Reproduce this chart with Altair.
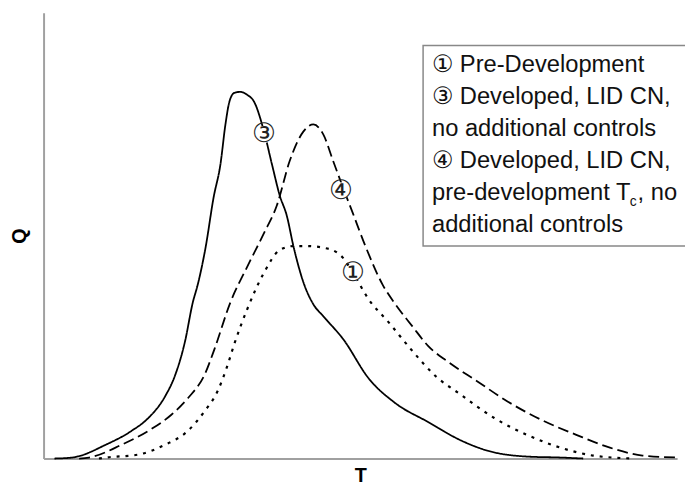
import altair as alt
import pandas as pd

# Hydrograph curves (T in arbitrary time units, Q in arbitrary flow units)
t_dev = [1.1, 2.9, 6.3, 8.9, 10.6, 12.3, 13.3, 14.3, 15.1, 15.6, 16.4, 17.2, 17.9, 18.4, 18.8, 19.3,
         19.9, 20.6, 21.3, 22.3, 23.1, 23.9, 24.6, 25.3, 26.3, 27.3, 28.3, 30.3, 32.9, 35.6, 38.9,
         42.3, 44.9, 48.9, 52.3, 54.6]
q_dev = [0.0, 0.1, 1.4, 2.8, 4.1, 6.3, 8.4, 11.8, 15.8, 17.6, 21.4, 26.4, 29.8, 33.8, 36.1, 37.0,
         37.1, 36.8, 36.1, 33.1, 29.8, 26.6, 24.6, 21.4, 17.8, 15.6, 14.4, 12.1, 8.1, 5.6, 3.7,
         1.8, 0.8, 0.2, 0.1, 0.0]

t_tc = [3.6, 4.6, 7.9, 10.6, 12.9, 14.6, 16.3, 17.3, 18.9, 20.6, 22.3, 23.6, 24.9, 26.3, 27.3,
        28.3, 29.3, 30.3, 31.3, 32.6, 34.3, 35.6, 37.3, 38.9, 40.9, 43.9, 46.9, 50.6, 53.9, 57.3,
        60.6, 64.1]
q_tc = [0.0, 0.1, 1.4, 2.8, 4.4, 6.1, 8.5, 11.1, 15.8, 19.4, 22.8, 25.6, 30.1, 33.1, 33.8,
        32.8, 30.1, 27.4, 24.8, 21.4, 17.6, 15.6, 13.4, 11.4, 9.8, 7.8, 5.8, 3.8, 2.4, 1.1,
        0.3, 0.1]

t_pre = [5.6, 6.3, 9.6, 12.3, 14.6, 16.3, 17.6, 18.6, 19.3, 20.6, 22.3, 23.9, 25.3, 26.6, 28.9,
         30.3, 31.3, 32.9, 34.9, 37.3, 39.6, 42.3, 45.6, 48.9, 52.3, 55.6, 59.6]
q_pre = [0.0, 0.1, 0.4, 1.4, 2.8, 4.8, 6.8, 9.4, 11.6, 15.1, 18.8, 21.1, 21.5, 21.5, 21.2,
         20.3, 18.8, 16.1, 13.8, 10.9, 8.4, 6.4, 4.1, 2.4, 1.1, 0.3, 0.0]

label_text = ["\u2462", "\u2463", "\u2460"]
label_t = [22.3, 30.1, 31.3]
label_q = [32.8, 27.1, 18.8]

legend_lines = ["\u2460 Pre-Development", "\u2462 Developed, LID CN,", "no additional controls",
                "\u2463 Developed, LID CN,", "pre-development T", "additional controls"]

T_MAX = 64.1
Q_MAX = 45.1

rows = []
for t, q in zip(t_dev, q_dev):
    rows.append({"T": t, "Q": q, "series": "dev"})
for t, q in zip(t_tc, q_tc):
    rows.append({"T": t, "Q": q, "series": "tc"})
for t, q in zip(t_pre, q_pre):
    rows.append({"T": t, "Q": q, "series": "pre"})
df = pd.DataFrame(rows)

xs = alt.Scale(domain=[0, T_MAX], nice=False, zero=True)
ys = alt.Scale(domain=[0, Q_MAX], nice=False, zero=True)

x_axis = alt.Axis(labels=False, ticks=False, grid=False, domainColor="#a0a0a0", domainWidth=2,
                  title="T", titleFontSize=20, titleFontWeight="bold", titleFont="Liberation Sans",
                  titlePadding=7, titleColor="black")
y_axis = alt.Axis(labels=False, ticks=False, grid=False, domainColor="#a0a0a0", domainWidth=2,
                  title="Q", titleFontSize=20, titleFontWeight="bold", titleFont="Liberation Sans",
                  titlePadding=14, titleColor="black")

def curve(series, dash, width):
    return alt.Chart(df).transform_filter(alt.datum.series == series).mark_line(
        color="black", strokeWidth=width, strokeDash=dash, interpolate="monotone"
    ).encode(x=alt.X("T:Q", scale=xs, axis=x_axis), y=alt.Y("Q:Q", scale=ys, axis=y_axis), order="T:Q")

solid = curve("dev", [1, 0], 1.8)
dashed = curve("tc", [11, 5], 1.8)
dotted = curve("pre", [3, 6], 2.2)

lab_df = pd.DataFrame({"T": label_t, "Q": label_q, "txt": label_text})
lab_bg = alt.Chart(lab_df).mark_point(filled=True, color="white", opacity=1, size=300, shape="circle").encode(
    x=alt.X("T:Q", scale=xs), y=alt.Y("Q:Q", scale=ys))
lab_txt = alt.Chart(lab_df).mark_text(fontSize=27, font="DejaVu Sans", color="#222222", baseline="middle",
                                      align="center").encode(
    x=alt.X("T:Q", scale=xs), y=alt.Y("Q:Q", scale=ys), text="txt:N")

box = alt.Chart(pd.DataFrame({"a": [0]})).mark_rect(fill="white", stroke="#888888", strokeWidth=1.5,
                                                     clip=False).encode(
    x=alt.value(384), x2=alt.value(680), y=alt.value(33), y2=alt.value(236))

leg_y = [60, 92.4, 124.8, 157.2, 189.6, 222]
leg_df = pd.DataFrame({"txt": legend_lines, "py": leg_y})
leg = alt.Chart(leg_df).mark_text(fontSize=24, font="Liberation Sans, DejaVu Sans", color="#111111",
                                  align="left", baseline="alphabetic", x=393).encode(
    y=alt.Y("py:Q", scale=None), text="txt:N")

sub_c = alt.Chart(pd.DataFrame({"t": ["c"]})).mark_text(fontSize=14, font="Liberation Sans", color="#111111",
                                                          align="left", baseline="alphabetic").encode(
    x=alt.value(593), y=alt.value(195), text="t:N")
sub_rest = alt.Chart(pd.DataFrame({"t": [", no"]})).mark_text(fontSize=24, font="Liberation Sans",
                                                               color="#111111", align="left",
                                                               baseline="alphabetic").encode(
    x=alt.value(601), y=alt.value(189.6), text="t:N")

chart = alt.layer(solid, dashed, dotted, lab_bg, lab_txt, box, leg, sub_c, sub_rest).properties(
    width=641, height=451,
    autosize=alt.AutoSizeParams(type="none"),
    padding={"left": 36, "top": 2, "right": 8, "bottom": 30},
).configure_view(stroke=None)

chart.save("out.html", embed_options={"renderer": "svg", "actions": False})
